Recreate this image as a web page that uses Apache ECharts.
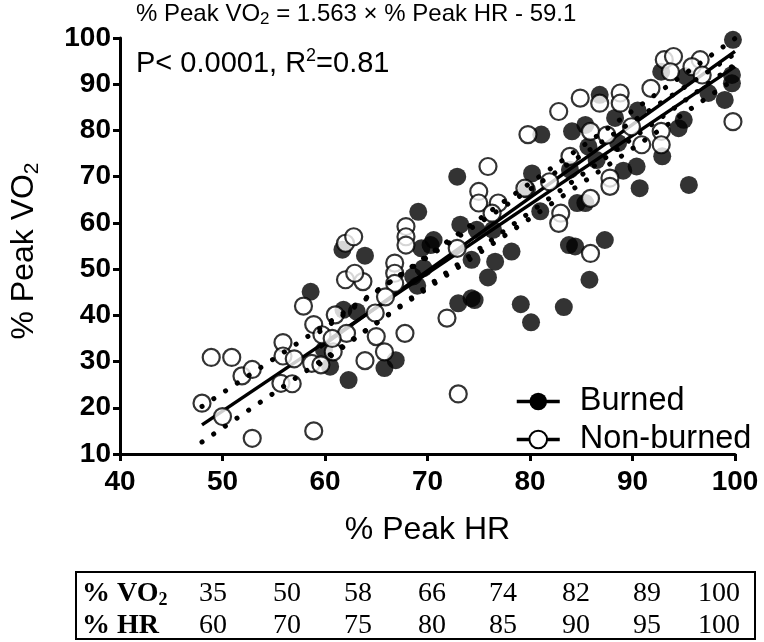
<!DOCTYPE html>
<html><head><meta charset="utf-8">
<script src="https://cdn.jsdelivr.net/npm/echarts@6/dist/echarts.min.js"></script>
<style>html,body{margin:0;padding:0;background:#fff}#c{width:764px;height:642px}</style>
</head><body><div id="c"></div>
<script>
// ---- data ----
const burned = [
[99.8,99.6],[92.8,92.7],[95.2,91.7],[99.7,92.0],[99.7,90.2],[97.4,88.1],[99.0,86.6],[95.0,82.3],[94.5,80.5],
[92.9,74.4],[95.5,68.2],[90.7,67.5],[90.5,84.3],[88.3,82.7],[86.8,87.7],[85.4,81.2],[84.1,79.8],[81.1,79.1],
[88.6,77.3],[85.7,76.5],[86.5,73.6],[89.1,71.3],[90.4,72.2],[83.9,71.5],[80.2,70.7],[79.7,67.2],[84.6,64.3],
[85.4,64.3],[81.0,62.5],[83.8,55.2],[84.4,54.9],[87.3,56.3],[85.8,47.7],[83.3,41.8],[80.1,38.5],[79.1,42.4],
[74.6,43.3],[73.0,42.6],[74.3,43.7],[78.2,53.8],[76.6,51.6],[74.3,52.0],[75.9,48.2],[76.4,58.5],[74.8,58.5],
[73.2,59.6],[72.9,70.0],[69.1,62.4],[70.6,56.3],[70.3,55.2],[69.4,54.5],[69.6,50.2],[68.6,48.4],[69.0,46.4],
[61.7,54.2],[63.9,52.9],[61.8,41.2],[63.1,40.8],[58.6,45.1],[59.9,32.5],[60.5,28.9],[62.3,26.0],[65.8,28.6],
[66.9,30.3]
];
const nonBurned = [
[48.9,30.9],[50.9,30.9],[51.9,26.9],[52.9,28.3],[48.0,21.0],[50.0,18.1],[52.9,13.4],[58.9,15.0],[55.9,34.1],
[55.9,31.2],[55.7,25.3],[56.8,25.2],[57.0,30.6],[57.9,42.0],[58.9,38.0],[58.7,29.6],[59.6,29.3],[59.7,35.8],
[60.8,32.1],[61.0,40.1],[62.1,36.1],[60.7,35.0],[63.9,30.2],[65.0,35.4],[65.8,32.1],[64.9,40.5],[62.0,47.7],
[63.7,47.3],[62.9,49.1],[62.0,55.6],[62.8,57.0],[67.9,59.2],[67.9,57.0],[67.9,55.2],[66.8,51.3],[66.8,49.1],
[66.8,46.9],[72.9,54.5],[71.9,39.4],[67.8,36.1],[65.9,44.0],[73.0,23.0],[75.9,72.2],[75.0,66.8],[75.0,64.3],
[76.9,64.3],[79.5,67.5],[76.3,62.1],[82.8,84.1],[84.9,87.0],[86.8,85.9],[88.8,88.1],[88.8,85.9],[91.8,89.1],
[79.8,79.1],[85.9,79.8],[89.9,80.8],[90.9,76.9],[87.8,69.7],[87.8,67.9],[83.9,74.4],[81.9,68.9],[85.9,65.3],
[83.0,62.1],[82.8,59.9],[85.9,53.4],[93.1,95.3],[94.0,96.0],[96.6,95.3],[95.8,93.8],[93.7,92.7],[96.8,92.0],
[99.8,81.9],[92.8,79.8],[92.8,76.9],[87.5,79.0]
];
// regression lines
const nonBurnedFit = [[48, 16.3], [100, 93.8]];
const burnedFit = [[59.5, 33.0], [100, 97.1]];
// dotted confidence bands
const nonBurnedUpper = [[48, 20.3], [100, 96.6]];
const nonBurnedLower = [[48, 12.6], [100, 91.2]];
const burnedUpper = [[59.5, 36.5], [100, 99.9]];
const burnedLower = [[59.5, 29.5], [100, 94.3]];
// table below the chart
const tableVO2 = [35, 50, 58, 66, 74, 82, 89, 100];
const tableHR = [60, 70, 75, 80, 85, 90, 95, 100];

const SANS = 'Liberation Sans, Arial, sans-serif';
const SERIF = 'Liberation Serif, Times New Roman, serif';

const chart = echarts.init(document.getElementById('c'), null, {renderer: 'canvas'});

function fitSeries(name, data) {
  return {name, type: 'line', data, symbol: 'none', showSymbol: false, silent: true,
    lineStyle: {color: '#000', width: 3.5}, z: 2,
    itemStyle: name === 'Burned' ? {color: '#000'} : {color: '#fff', borderColor: '#000', borderWidth: 2}};
}
function bandSeries(name, data) {
  return {name, type: 'line', data, symbol: 'none', silent: true, z: 4,
    lineStyle: {color: '#000', width: 5, type: [0.1, 14], cap: 'round'}};
}

// table graphics
const colX = [213, 287, 358, 432, 503, 576, 647, 719];
const tableGraphics = [
  {type: 'rect', shape: {x: 76, y: 572, width: 679, height: 67}, style: {fill: 'none', stroke: '#000', lineWidth: 2}},
  {type: 'text', x: 82, y: 594, style: {text: '{b|% VO}{s|2}', verticalAlign: 'middle', rich: {
      b: {fontFamily: SERIF, fontWeight: 'bold', fontSize: 28, lineHeight: 30, fill: '#000'},
      s: {fontFamily: SERIF, fontWeight: 'bold', fontSize: 18, lineHeight: 18, verticalAlign: 'bottom', fill: '#000'}}}},
  {type: 'text', x: 82, y: 626, style: {text: '% HR', verticalAlign: 'middle', font: 'bold 28px ' + SERIF, fill: '#000'}}
];
tableVO2.forEach((v, i) => tableGraphics.push({type: 'text', x: colX[i], y: 594,
  style: {text: String(v), align: 'center', verticalAlign: 'middle', font: '28px ' + SERIF, fill: '#000'}}));
tableHR.forEach((v, i) => tableGraphics.push({type: 'text', x: colX[i], y: 626,
  style: {text: String(v), align: 'center', verticalAlign: 'middle', font: '28px ' + SERIF, fill: '#000'}}));

const option = {
  animation: false,
  backgroundColor: '#fff',
  title: [
    {text: '{n|% Peak VO}{s|2}{n| = 1.563 × % Peak HR - 59.1}', left: 131, top: -5,
     textStyle: {fontWeight: 'normal', rich: {
       n: {fontFamily: SANS, fontWeight: 'normal', fontSize: 24, lineHeight: 28, color: '#000'},
       s: {fontFamily: SANS, fontWeight: 'normal', fontSize: 17, lineHeight: 17, verticalAlign: 'bottom', color: '#000'}}}},
    {text: '{n|P< 0.0001, R}{p|2}{n|=0.81}', left: 131, top: 42,
     textStyle: {fontWeight: 'normal', rich: {
       n: {fontFamily: SANS, fontWeight: 'normal', fontSize: 29, lineHeight: 34, color: '#000'},
       p: {fontFamily: SANS, fontWeight: 'normal', fontSize: 18, lineHeight: 18, verticalAlign: 'top', color: '#000'}}}}
  ],
  legend: {
    orient: 'vertical', left: 510, top: 380, itemWidth: 43, itemHeight: 22, itemGap: 5,
    selectedMode: false,
    textStyle: {fontFamily: SANS, fontSize: 32.5, color: '#000', padding: [0, 0, 0, 15]},
    data: [
      {name: 'Burned', itemStyle: {color: '#000', borderWidth: 0}, lineStyle: {color: '#000', width: 3.5}},
      {name: 'Non-burned', itemStyle: {color: '#fff', borderColor: '#000', borderWidth: 2}, lineStyle: {color: '#000', width: 3.5}}
    ]
  },
  grid: {left: 113, right: 29, top: 38, bottom: 188, containLabel: false},
  xAxis: {
    type: 'value', min: 40, max: 100, interval: 10,
    name: '% Peak HR', nameLocation: 'middle', nameGap: 60,
    nameTextStyle: {fontFamily: SANS, fontSize: 32, color: '#000'},
    axisLine: {show: true, onZero: false, lineStyle: {color: '#000', width: 3}},
    axisTick: {show: true, length: 7, lineStyle: {color: '#000', width: 3}},
    axisLabel: {fontFamily: SANS, fontWeight: 'bold', fontSize: 28, color: '#000', margin: 14},
    splitLine: {show: false}
  },
  yAxis: {
    type: 'value', min: 10, max: 100, interval: 10,
    name: '{n|% Peak VO}{s|2}', nameLocation: 'middle', nameGap: 77, nameRotate: 90,
    nameTextStyle: {padding: [0, 10, 0, 0], rich: {
      n: {fontFamily: SANS, fontSize: 32, lineHeight: 38, color: '#000'},
      s: {fontFamily: SANS, fontSize: 21, lineHeight: 21, verticalAlign: 'bottom', color: '#000'}}},
    axisLine: {show: true, onZero: false, lineStyle: {color: '#000', width: 3}},
    axisTick: {show: true, length: 7, lineStyle: {color: '#000', width: 3}},
    axisLabel: {fontFamily: SANS, fontWeight: 'bold', fontSize: 28, color: '#000', margin: 9},
    splitLine: {show: false}
  },
  series: [
    fitSeries('Burned', burnedFit),
    fitSeries('Non-burned', nonBurnedFit),
    {name: 'Burned', type: 'scatter', data: burned, symbol: 'circle', symbolSize: 18, z: 3,
     itemStyle: {color: '#000'}},
    {name: 'Non-burned', type: 'scatter', data: nonBurned, symbol: 'circle', symbolSize: 17, z: 3,
     itemStyle: {color: '#fff', borderColor: '#000', borderWidth: 2.2}},
    bandSeries('Non-burned upper CI', nonBurnedUpper),
    bandSeries('Non-burned lower CI', nonBurnedLower),
    bandSeries('Burned upper CI', burnedUpper),
    bandSeries('Burned lower CI', burnedLower)
  ],
  graphic: tableGraphics
};
chart.setOption(option);
</script>
</body></html>
